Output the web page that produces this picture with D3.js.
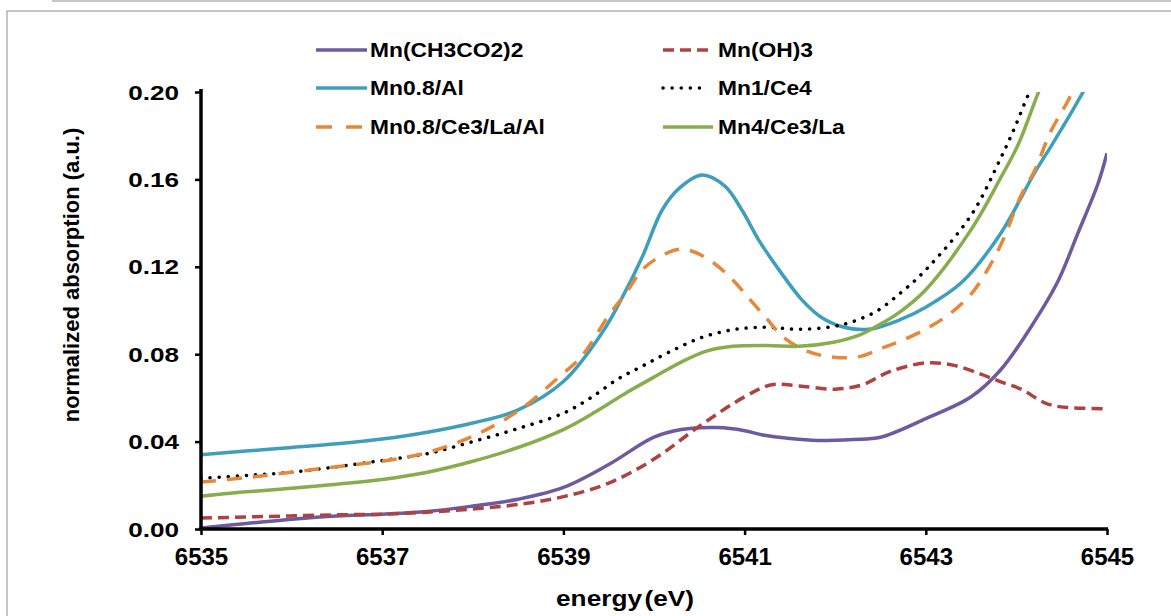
<!DOCTYPE html>
<html>
<head>
<meta charset="utf-8">
<script src="https://cdn.jsdelivr.net/npm/d3@7"></script>
<style>
html,body{margin:0;padding:0;background:#fff;}
svg{display:block;}
text{font-family:"Liberation Sans",Arial,sans-serif;font-weight:bold;fill:#000;}
</style>
</head>
<body>
<svg id="chart" width="1171" height="616"></svg>
<script>
// ---------- data (energy eV, normalized absorption) ----------
const xTicks = [6535, 6537, 6539, 6541, 6543, 6545];
const yTicks = [0.00, 0.04, 0.08, 0.12, 0.16, 0.20];

const mnAcetate = [[6535,0.0005],[6535.5,0.0025],[6536,0.0045],[6536.5,0.006],[6537,0.0068],[6537.5,0.008],[6538,0.0105],[6538.5,0.0136],[6539,0.019],[6539.5,0.0295],[6540,0.042],[6540.3,0.0455],[6540.7,0.0464],[6541,0.045],[6541.2,0.043],[6541.5,0.0414],[6541.8,0.0405],[6542.2,0.041],[6542.5,0.042],[6543,0.0505],[6543.5,0.0605],[6543.83,0.073],[6544.2,0.095],[6544.46,0.1135],[6544.68,0.1355],[6544.9,0.158],[6545,0.172]];

const mnOH3 = [[6535,0.005],[6535.5,0.0055],[6536,0.006],[6536.5,0.0065],[6537,0.0068],[6537.5,0.0077],[6538,0.0092],[6538.5,0.0112],[6539,0.0148],[6539.5,0.021],[6540,0.032],[6540.5,0.047],[6541,0.0605],[6541.3,0.066],[6541.6,0.0655],[6542,0.064],[6542.3,0.066],[6542.6,0.072],[6543,0.076],[6543.3,0.075],[6543.6,0.071],[6543.83,0.0673],[6544.05,0.064],[6544.3,0.058],[6544.47,0.056],[6545,0.055]];

const mn08Al = [[6535,0.034],[6535.5,0.0357],[6536,0.0373],[6536.5,0.039],[6537,0.0412],[6537.5,0.0443],[6538,0.0485],[6538.5,0.0545],[6539,0.0675],[6539.43,0.090],[6539.65,0.106],[6539.87,0.1245],[6540.09,0.146],[6540.28,0.156],[6540.53,0.162],[6540.78,0.157],[6540.97,0.146],[6541.16,0.132],[6541.38,0.1186],[6541.63,0.105],[6541.85,0.0968],[6542.07,0.0927],[6542.37,0.0914],[6542.73,0.096],[6543,0.1015],[6543.4,0.113],[6543.83,0.1355],[6544.2,0.163],[6544.38,0.175],[6544.57,0.188],[6544.75,0.201]];

const mn1Ce4 = [[6535,0.0232],[6535.5,0.0245],[6536,0.026],[6536.5,0.0285],[6537,0.0314],[6537.5,0.0345],[6538,0.040],[6538.5,0.046],[6539,0.053],[6539.3,0.060],[6539.6,0.0686],[6539.87,0.0745],[6540.17,0.081],[6540.53,0.0877],[6540.9,0.0914],[6541.25,0.0923],[6541.6,0.0914],[6541.98,0.0927],[6542.2,0.095],[6542.45,0.0995],[6542.72,0.108],[6543,0.1186],[6543.5,0.1436],[6543.83,0.170],[6543.98,0.1836],[6544.14,0.1995],[6544.25,0.208]];

const mn08Ce3LaAl = [[6535,0.0215],[6535.5,0.0235],[6536,0.026],[6536.5,0.0285],[6537,0.031],[6537.5,0.035],[6538,0.0425],[6538.5,0.054],[6538.95,0.0695],[6539.2,0.079],[6539.5,0.0977],[6539.69,0.108],[6539.87,0.1186],[6540.06,0.1245],[6540.28,0.128],[6540.43,0.127],[6540.65,0.122],[6540.87,0.114],[6541.06,0.105],[6541.25,0.096],[6541.43,0.0877],[6541.69,0.0814],[6541.98,0.0786],[6542.28,0.079],[6542.53,0.083],[6542.72,0.086],[6543,0.0915],[6543.25,0.098],[6543.5,0.1075],[6543.7,0.12],[6543.85,0.132],[6544.05,0.1525],[6544.2,0.164],[6544.38,0.182],[6544.57,0.196],[6544.65,0.203]];

const mn4Ce3La = [[6535,0.015],[6535.5,0.017],[6536,0.0186],[6536.5,0.0205],[6537,0.0227],[6537.5,0.026],[6538,0.031],[6538.5,0.0373],[6539,0.0455],[6539.35,0.0535],[6539.7,0.0625],[6540.0,0.0695],[6540.3,0.0764],[6540.58,0.0814],[6540.87,0.0836],[6541.25,0.084],[6541.6,0.0836],[6541.98,0.0855],[6542.28,0.089],[6542.53,0.0945],[6542.72,0.0995],[6543,0.1095],[6543.5,0.137],[6543.83,0.161],[6544.02,0.176],[6544.24,0.1995],[6544.35,0.21]];

const seriesNames = ["Mn(CH3CO2)2","Mn(OH)3","Mn0.8/Al","Mn1/Ce4","Mn0.8/Ce3/La/Al","Mn4/Ce3/La"];
const seriesData = [mnAcetate, mnOH3, mn08Al, mn1Ce4, mn08Ce3LaAl, mn4Ce3La];

// ---------- styles ----------
const styles = [
  {color:"#6E5A9E", dash:null, cap:"butt"},
  {color:"#AE4242", dash:"11 6", cap:"butt"},
  {color:"#3F9FBA", dash:null, cap:"butt"},
  {color:"#000000", dash:"0.1 9", cap:"round"},
  {color:"#E4883C", dash:"15 11", cap:"butt"},
  {color:"#88AD4C", dash:null, cap:"butt"}
];

const svg = d3.select("#chart");

// frame
svg.append("line").attr("x1",52).attr("x2",1171).attr("y1",1).attr("y2",1)
  .attr("stroke","#b4b4b4").attr("stroke-width",1.5);
svg.append("rect").attr("x",7).attr("y",11).attr("width",1180).attr("height",620)
  .attr("fill","none").attr("stroke","#a8a8a8").attr("stroke-width",1.3);

const x = d3.scaleLinear().domain([6535,6545]).range([201,1107]);
const y = d3.scaleLinear().domain([0,0.2]).range([529,92]);

svg.append("defs").append("clipPath").attr("id","plot")
  .append("rect").attr("x",201).attr("y",92).attr("width",906).attr("height",437);

const line = d3.line().x(d=>x(d[0])).y(d=>y(d[1])).curve(d3.curveCatmullRom.alpha(0.5));

const gLines = svg.append("g").attr("clip-path","url(#plot)");
seriesData.forEach((s,i)=>{
  gLines.append("path").attr("d",line(s)).attr("fill","none")
    .attr("stroke",styles[i].color).attr("stroke-width",3.5)
    .attr("stroke-dasharray",styles[i].dash).attr("stroke-linecap",styles[i].cap)
    .attr("stroke-linejoin","round");
});

// axes
const yAxis = d3.axisLeft(y).tickValues(yTicks).tickSize(6).tickFormat(d3.format(".2f"));
const gy = svg.append("g").attr("transform","translate(201,0)").call(yAxis);
gy.select(".domain").attr("stroke","#000").attr("stroke-width",3.5).attr("d","M0,89V529");
gy.selectAll(".tick line").attr("stroke","#000").attr("stroke-width",2.5);
gy.selectAll(".tick text").attr("x",0).attr("dy",null).attr("y",7)
  .attr("text-anchor","end").style("font-size","19.5px")
  .attr("transform","translate(-22,0) scale(1.34,1)");

const xAxis = d3.axisBottom(x).tickValues(xTicks).tickSize(6).tickFormat(d3.format("d"));
const gx = svg.append("g").attr("transform","translate(0,529)").call(xAxis);
gx.select(".domain").attr("stroke","#000").attr("stroke-width",3.5).attr("d","M199,0H1108");
gx.selectAll(".tick line").attr("stroke","#000").attr("stroke-width",2.5);
gx.selectAll(".tick text").attr("dy",null).attr("y",36).style("font-size","24px");

// axis titles
svg.append("text").attr("text-anchor","middle").style("font-size","21.5px").style("word-spacing","-4px")
  .attr("transform","translate(625,606) scale(1.22,1)").text("energy (eV)");
svg.append("text").attr("text-anchor","middle").style("font-size","22px")
  .attr("transform","translate(79,275) rotate(-90)").text("normalized absorption (a.u.)");

// legend
const legendPos = [[316,50],[663,50],[316,88],[663,88],[316,127],[663,127]];
const legendLen = [51,45,51,45,46,50];
const legendDash = [null,"11 6",null,"0.1 9","16 14",null];
seriesNames.forEach((n,i)=>{
  const [lx,ly] = legendPos[i];
  svg.append("line").attr("x1",lx).attr("x2",lx+legendLen[i]).attr("y1",ly).attr("y2",ly)
    .attr("stroke",styles[i].color).attr("stroke-width",3.5)
    .attr("stroke-dasharray",legendDash[i]).attr("stroke-linecap",styles[i].cap);
  svg.append("text").attr("x",0).attr("y",0).style("font-size","19.5px")
    .attr("transform",`translate(${i%2===0?370:718},${ly+7}) scale(1.17,1)`).text(n);
});
</script>
</body>
</html>
